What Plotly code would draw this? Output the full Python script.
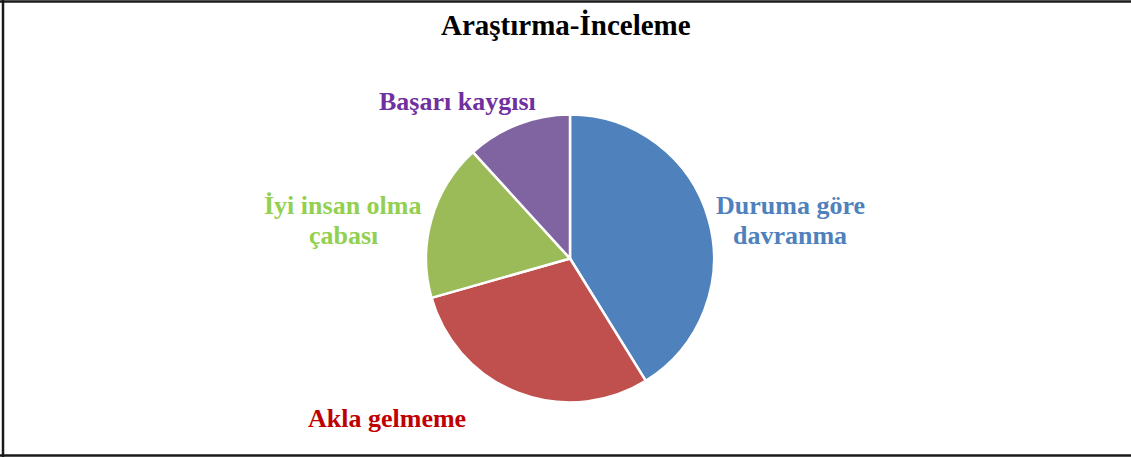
import plotly.graph_objects as go

# ---- data ----
categories = ["Duruma göre davranma", "Akla gelmeme", "İyi insan olma çabası", "Başarı kaygısı"]
label_lines = [["Duruma göre", "davranma"], ["Akla gelmeme"], ["İyi insan olma", "çabası"], ["Başarı kaygısı"]]
values = [14, 10, 6, 4]
slice_colors = ["#4F81BD", "#C0504D", "#9BBB59", "#8064A2"]
label_colors = ["#4F81BD", "#C00000", "#92D050", "#7030A0"]
title_text = "Araştırma-İnceleme"

W, H = 1131, 457
FONT = "Liberation Serif, Times New Roman, serif"

# pie geometry (pixels)
cx, cy, r = 570, 258.5, 144

fig = go.Figure()
fig.add_trace(go.Pie(
    labels=categories,
    values=values,
    sort=False,
    direction="clockwise",
    rotation=0,
    marker=dict(colors=slice_colors, line=dict(color="white", width=2.5)),
    textinfo="none",
    hoverinfo="label+value",
    showlegend=False,
    domain=dict(x=[(cx - r) / W, (cx + r) / W],
                y=[(H - cy - r) / H, (H - cy + r) / H]),
))

def px_x(x):
    return x / W

def px_y(y):
    return 1 - y / H

# label anchor positions (pixel centre x, baseline y of first line)
label_pos = [(790, 214), (387, 427), (343, 214), (457.5, 110)]
line_gap = 30
fs = 26
annotations = []
for lines, col, (lx, by) in zip(label_lines, label_colors, label_pos):
    for i, ln in enumerate(lines):
        annotations.append(dict(
            text="<b>" + ln + "</b>", x=px_x(lx), y=px_y(by + i * line_gap - 0.32 * fs),
            xref="paper", yref="paper", xanchor="center", yanchor="middle",
            showarrow=False, font=dict(family=FONT, size=fs, color=col),
        ))

annotations.append(dict(
    text="<b>" + title_text + "</b>", x=px_x(566), y=px_y(34 - 0.32 * 29),
    xref="paper", yref="paper", xanchor="center", yanchor="middle",
    showarrow=False, font=dict(family=FONT, size=29, color="black"),
))

shapes = [
    dict(type="line", xref="paper", yref="paper", x0=0, x1=1, y0=px_y(1.5), y1=px_y(1.5),
         line=dict(color="#1a1a1a", width=2.5)),
    dict(type="line", xref="paper", yref="paper", x0=px_x(3), x1=px_x(3), y0=0, y1=1,
         line=dict(color="#1a1a1a", width=2.5)),
    dict(type="line", xref="paper", yref="paper", x0=0, x1=1, y0=px_y(455.5), y1=px_y(455.5),
         line=dict(color="#1a1a1a", width=2.5)),
]

fig.update_layout(
    width=W, height=H,
    margin=dict(l=0, r=0, t=0, b=0),
    paper_bgcolor="white", plot_bgcolor="white",
    annotations=annotations,
    shapes=shapes,
)

fig.write_html("out.html", config={"displayModeBar": False},
               post_script="document.body.style.margin='0';document.body.style.overflow='hidden';")
